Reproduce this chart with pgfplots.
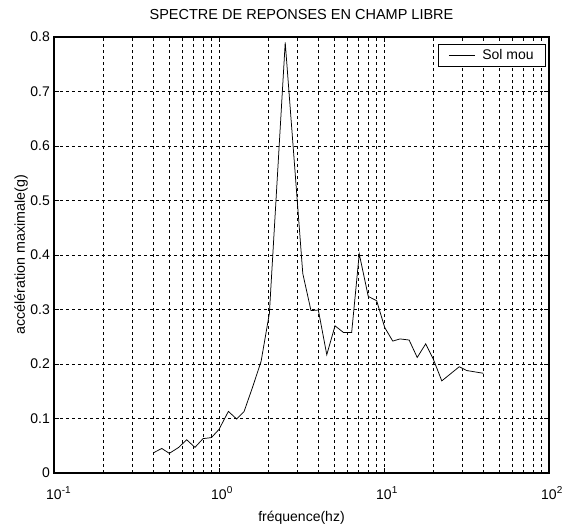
\documentclass[border=0pt]{standalone}
\usepackage{pgfplots}
\pgfplotsset{compat=1.18}
\usepackage{fontspec}
\setmainfont{Liberation Sans}
\newcommand{\ex}[1]{10\rlap{\raisebox{6.5pt}{\fontsize{10}{10}\selectfont #1}}}
\begin{document}
\begin{tikzpicture}
\useasboundingbox (-54pt,-56pt) rectangle (509pt,473pt);
\begin{semilogxaxis}[
  at={(0,0)}, anchor=south west,
  scale only axis, width=495pt, height=436pt,
  xmin=0.1, xmax=100, ymin=0, ymax=0.8,
  xtick={0.1,1,10,100},
  xticklabels={\ex{-1},\ex{0},\ex{1},\ex{2}},
  ytick={0,0.1,0.2,0.3,0.4,0.5,0.6,0.7,0.8},
  yticklabels={0,0.1,0.2,0.3,0.4,0.5,0.6,0.7,0.8},
  tick align=inside, tick pos=both,
  major tick length=5pt, minor tick length=3pt,
  tick style={black, line width=0.6pt},
  axis line style={black, line width=1.1pt},
  xmajorgrids, xminorgrids, ymajorgrids,
  grid style={black, line width=0.5pt, dash pattern=on 3pt off 3pt},
  minor grid style={black, line width=0.5pt, dash pattern=on 3pt off 3pt},
  ticklabel style={font=\fontsize{14}{16}\selectfont},
  xticklabel style={anchor=base, inner sep=0pt, yshift=-27pt},
  yticklabel style={anchor=east, inner sep=0pt, xshift=-4pt},
  title={SPECTRE DE REPONSES EN CHAMP LIBRE},
  title style={at={(axis description cs:0.5,1.0275)}, anchor=base, inner sep=0pt, font=\fontsize{14.5}{16}\selectfont},
  xlabel={fréquence(hz)},
  xlabel style={at={(axis description cs:0.5,-0.1124)}, anchor=base, inner sep=0pt, font=\fontsize{14}{16}\selectfont},
  ylabel={accélération maximale(g)},
  ylabel style={at={(axis description cs:-0.0586,0.5)}, anchor=base, inner sep=0pt, font=\fontsize{14.3}{16}\selectfont},
  legend style={at={(axis description cs:0.994,0.984)}, anchor=north east,
    draw=black, line width=0.8pt, fill=white, inner xsep=10pt, inner ysep=3pt,
    font=\fontsize{14}{16}\selectfont},
  legend image code/.code={\draw[#1, line width=0.7pt] (0pt,0pt) -- (26pt,0pt); \path (31pt,0pt);},
  legend cell align=left,
]
\addplot[black, line width=0.75pt, mark=none] coordinates {
(0.4,0.037) (0.45,0.045) (0.5,0.036) (0.57,0.047) (0.637,0.061) (0.715,0.047)
(0.8,0.063) (0.9,0.065) (1.0,0.080) (1.14,0.113) (1.28,0.099) (1.42,0.113)
(1.6,0.158) (1.8,0.205) (2.02,0.293) (2.52,0.790) (3.22,0.366) (3.61,0.298)
(4.0,0.299) (4.5,0.217) (5.05,0.270) (5.67,0.258) (6.37,0.258) (7.08,0.402)
(8.03,0.324) (9.03,0.316) (10.1,0.267) (11.3,0.242) (12.5,0.246) (14.2,0.244)
(15.9,0.212) (17.9,0.237) (19.9,0.209) (22.4,0.169) (28.6,0.195) (31.7,0.188)
(40,0.183)
};
\addlegendentry{Sol mou}
\end{semilogxaxis}
\end{tikzpicture}
\end{document}
